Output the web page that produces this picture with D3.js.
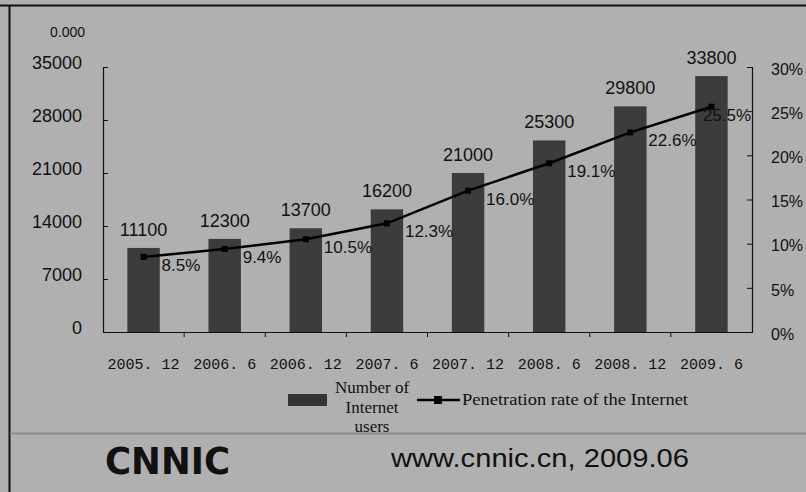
<!DOCTYPE html>
<html>
<head>
<meta charset="utf-8">
<script src="https://cdn.jsdelivr.net/npm/d3@7"></script>
<style>
  html, body { margin: 0; padding: 0; background: #b0b0b0; }
  svg { display: block; }
  text { font-family: "Liberation Sans", Arial, sans-serif; fill: #111; }
</style>
</head>
<body>
<svg id="chart" width="806" height="492"></svg>
<script>
// Internet users in China (10k people) and penetration rate, half-yearly
const periods = ["2005. 12", "2006. 6", "2006. 12", "2007. 6", "2007. 12", "2008. 6", "2008. 12", "2009. 6"];
const users = [11100, 12300, 13700, 16200, 21000, 25300, 29800, 33800];
const rates = [8.5, 9.4, 10.5, 12.3, 16.0, 19.1, 22.6, 25.5];
const userTicks = [0, 7000, 14000, 21000, 28000, 35000];
const rateTicks = [0, 5, 10, 15, 20, 25, 30];
const cornerLabel = "0.000";
const legendBars = ["Number of", "Internet", "users"];
const legendLine = "Penetration rate of the Internet";
const sourceText = "www.cnnic.cn, 2009.06";
const logoText = "CNNIC";

const svg = d3.select("#chart");
const W = 806, H = 492;

// frame of the slide
svg.append("rect").attr("x", 0).attr("y", 0).attr("width", W).attr("height", H).attr("fill", "#b0b0b0");
svg.append("line").attr("x1", 0).attr("x2", W).attr("y1", 5.5).attr("y2", 5.5).attr("stroke", "#111").attr("stroke-width", 2);
svg.append("line").attr("x1", 9.5).attr("x2", 9.5).attr("y1", 5).attr("y2", H).attr("stroke", "#111").attr("stroke-width", 2);
svg.append("line").attr("x1", 10).attr("x2", W).attr("y1", 433.5).attr("y2", 433.5).attr("stroke", "#8a8a8a").attr("stroke-width", 2);

const plot = { left: 103, right: 752, top: 67, bottom: 332 };

const x = d3.scaleBand().domain(periods).range([plot.left, plot.right]).paddingInner(0.6).paddingOuter(0.3);
const yUsers = d3.scaleLinear().domain([0, 35000]).range([plot.bottom, plot.top]);
const yRate = d3.scaleLinear().domain([0, 30]).range([plot.bottom, plot.top]);

// left axis
const gl = svg.append("g").attr("transform", `translate(${plot.left},0)`)
  .call(d3.axisLeft(yUsers).tickValues(userTicks).tickSize(-5).tickPadding(21).tickFormat(d3.format("d")));
gl.select(".domain").attr("stroke", "#111").attr("stroke-width", 1.2);
gl.selectAll(".tick line").attr("stroke", "#111");
gl.selectAll(".tick text").style("font-size", "18px").attr("fill", "#111").attr("dy", "0.1em");

svg.append("text").attr("x", 85).attr("y", 37).attr("text-anchor", "end")
  .style("font-size", "14px").text(cornerLabel);

// right axis
const gr = svg.append("g").attr("transform", `translate(${plot.right},0)`)
  .call(d3.axisRight(yRate).tickValues(rateTicks).tickSize(-5).tickPadding(19).tickFormat(d => d + "%"));
gr.select(".domain").attr("stroke", "#111").attr("stroke-width", 1.2);
gr.selectAll(".tick line").attr("stroke", "#111");
gr.selectAll(".tick text").style("font-size", "16px").attr("fill", "#111").attr("dy", "0.45em");

// bottom axis with category labels
const gb = svg.append("g").attr("transform", `translate(0,${plot.bottom})`)
  .call(d3.axisBottom(x).tickSize(0).tickPadding(26));
gb.select(".domain").attr("stroke", "#111").attr("stroke-width", 1.2);
gb.selectAll(".tick text").style("font-family", "'Liberation Mono', 'DejaVu Sans Mono', monospace")
  .style("font-size", "15px").attr("fill", "#000");

// boundary ticks between categories
const half = x.step() * x.paddingInner() / 2;
svg.append("g").selectAll("line").data(periods.slice(1)).join("line")
  .attr("x1", d => x(d) - half).attr("x2", d => x(d) - half)
  .attr("y1", plot.bottom).attr("y2", plot.bottom + 5)
  .attr("stroke", "#111");

// bars
svg.append("g").selectAll("rect").data(users).join("rect")
  .attr("x", (d, i) => x(periods[i]))
  .attr("y", d => yUsers(d))
  .attr("width", x.bandwidth())
  .attr("height", d => yUsers(0) - yUsers(d))
  .attr("fill", "#3c3c3c");

// user value labels
svg.append("g").selectAll("text").data(users).join("text")
  .attr("x", (d, i) => x(periods[i]) + x.bandwidth() / 2)
  .attr("y", d => yUsers(d) - 12)
  .attr("text-anchor", "middle")
  .style("font-size", "18px")
  .text(d => d);

// penetration rate line
const cx = i => x(periods[i]) + x.bandwidth() / 2;
const line = d3.line().x((d, i) => cx(i)).y(d => yRate(d));
svg.append("path").datum(rates).attr("d", line)
  .attr("fill", "none").attr("stroke", "#000").attr("stroke-width", 2.5);
svg.append("g").selectAll("rect").data(rates).join("rect")
  .attr("x", (d, i) => cx(i) - 3).attr("y", d => yRate(d) - 3)
  .attr("width", 6).attr("height", 6).attr("fill", "#000");

// rate labels, kept inside the right axis
const rateLabels = svg.append("g").selectAll("text").data(rates).join("text")
  .attr("y", d => yRate(d) + 8)
  .attr("dy", "0.35em")
  .style("font-size", "17px")
  .text(d => d.toFixed(1) + "%");
rateLabels.each(function (d, i) {
  const w = this.getComputedTextLength();
  d3.select(this).attr("x", Math.min(cx(i) + 18, plot.right - w - 1));
});

// legend
svg.append("rect").attr("x", 288).attr("y", 394).attr("width", 39).attr("height", 12).attr("fill", "#333");
svg.append("g").selectAll("text").data(legendBars).join("text")
  .attr("x", 372).attr("y", (d, i) => 393 + i * 19.5)
  .attr("text-anchor", "middle")
  .style("font-family", "'Liberation Serif', 'Times New Roman', serif")
  .style("font-size", "17px")
  .text(d => d);
svg.append("line").attr("x1", 417).attr("x2", 460).attr("y1", 400).attr("y2", 400)
  .attr("stroke", "#000").attr("stroke-width", 2.5);
svg.append("rect").attr("x", 434).attr("y", 396).attr("width", 8).attr("height", 8).attr("fill", "#000");
svg.append("text").attr("x", 462).attr("y", 405)
  .attr("textLength", 226).attr("lengthAdjust", "spacingAndGlyphs")
  .style("font-family", "'Liberation Serif', 'Times New Roman', serif")
  .style("font-size", "17px")
  .text(legendLine);

// footer
svg.append("text").attr("x", 105).attr("y", 474)
  .attr("textLength", 125).attr("lengthAdjust", "spacingAndGlyphs")
  .style("font-family", "'DejaVu Sans', sans-serif").style("font-weight", "bold")
  .style("font-size", "38px").attr("fill", "#1a1a1a")
  .text(logoText);
svg.append("text").attr("x", 391).attr("y", 467)
  .attr("textLength", 298).attr("lengthAdjust", "spacingAndGlyphs")
  .style("font-size", "26px").attr("fill", "#5a5a5a")
  .text(sourceText);
</script>
</body>
</html>
